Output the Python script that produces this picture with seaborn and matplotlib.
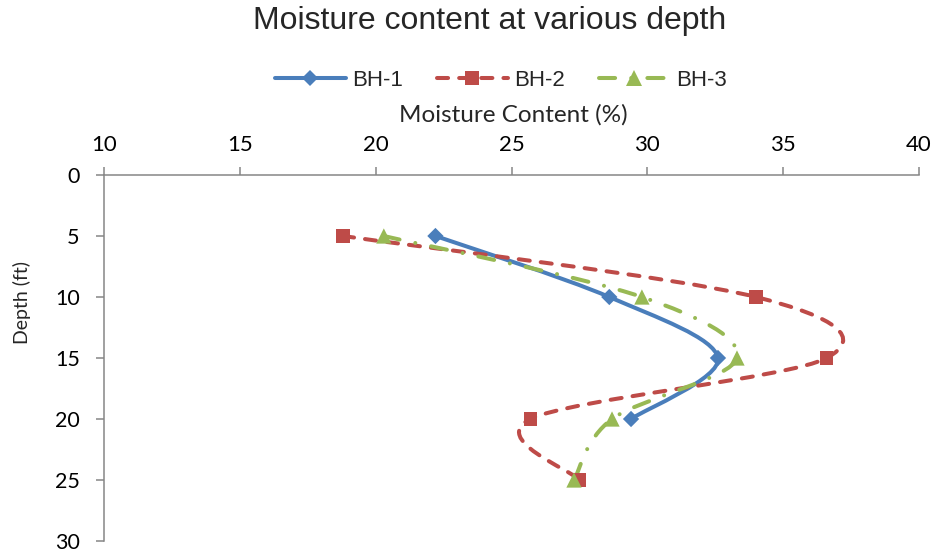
import numpy as np
import pandas as pd
import matplotlib
matplotlib.use("Agg")
import matplotlib.pyplot as plt
import seaborn as sns
from matplotlib.path import Path
from matplotlib.patches import PathPatch
from matplotlib.lines import Line2D

# ---- data ----
series_names = ["BH-1", "BH-2", "BH-3"]
depth_bh1 = [5, 10, 15, 20]
moist_bh1 = [22.2, 28.6, 32.6, 29.4]
depth_bh2 = [5, 10, 15, 20, 25]
moist_bh2 = [18.8, 34.0, 36.6, 25.7, 27.5]
depth_bh3 = [5, 10, 15, 20, 25]
moist_bh3 = [20.3, 29.8, 33.3, 28.7, 27.3]
x_ticks = [10, 15, 20, 25, 30, 35, 40]
y_ticks = [0, 5, 10, 15, 20, 25, 30]

colors = {"BH-1": "#4A7EBB", "BH-2": "#BE4B48", "BH-3": "#98B954"}
markers = {"BH-1": "D", "BH-2": "s", "BH-3": "^"}
msizes = {"BH-1": 8.3, "BH-2": 9.5, "BH-3": 11.0}
dashes = {"BH-1": "-", "BH-2": (0, (2.75, 2.75)), "BH-3": (0, (4.0, 4.0, 0.01, 4.0))}

df = pd.concat([
    pd.DataFrame({"series": "BH-1", "moisture": moist_bh1, "depth": depth_bh1}),
    pd.DataFrame({"series": "BH-2", "moisture": moist_bh2, "depth": depth_bh2}),
    pd.DataFrame({"series": "BH-3", "moisture": moist_bh3, "depth": depth_bh3}),
], ignore_index=True)

sns.set_theme(style="white")
plt.rcParams["font.family"] = ["Lato", "DejaVu Sans"]

W, H = 936, 552
fig = plt.figure(figsize=(W / 100, H / 100), dpi=100)
x0, x1, y0, y1 = 104, 919, 175, 541
ax = fig.add_axes([x0 / W, 1 - y1 / H, (x1 - x0) / W, (y1 - y0) / H])


def smooth_path(xs, ys):
    P = np.column_stack([xs, ys]).astype(float)
    n = len(P)
    verts = [P[0]]
    codes = [Path.MOVETO]
    for i in range(n - 1):
        pm = P[i - 1] if i > 0 else P[i]
        pp = P[i + 2] if i + 2 < n else P[i + 1]
        c1 = P[i] + (P[i + 1] - pm) / 6.0
        c2 = P[i + 1] - (pp - P[i]) / 6.0
        verts += [c1, c2, P[i + 1]]
        codes += [Path.CURVE4] * 3
    return Path(verts, codes)


lw = 2.9
for name in series_names:
    sub = df[df["series"] == name]
    path = smooth_path(sub["moisture"].values, sub["depth"].values)
    patch = PathPatch(path, facecolor="none", edgecolor=colors[name], lw=lw,
                      linestyle=dashes[name], capstyle="round", joinstyle="round",
                      zorder=2)
    ax.add_patch(patch)

for name in series_names:
    sub = df[df["series"] == name]
    sns.scatterplot(data=sub, x="moisture", y="depth", ax=ax, marker=markers[name],
                    color=colors[name], s=msizes[name] ** 2, edgecolor="none",
                    linewidth=0, legend=False, zorder=3)

ax.set_xlim(10, 40)
ax.set_ylim(30, 0)
ax.set_xticks(x_ticks)
ax.set_yticks(y_ticks)
ax.set_xlabel("")
ax.set_ylabel("")
ax.xaxis.tick_top()
for s in ["right", "bottom"]:
    ax.spines[s].set_visible(False)
for s in ["top", "left"]:
    ax.spines[s].set_color("#868686")
    ax.spines[s].set_linewidth(1.1)
ax.tick_params(axis="x", which="major", direction="out", length=5.5, width=1.1,
               color="#868686", pad=9, labelsize=16, labelcolor="black",
               top=True, bottom=False, labeltop=True, labelbottom=False)
ax.tick_params(axis="y", which="major", direction="out", length=5.5, width=1.1,
               color="#868686", pad=12, labelsize=15.5, labelcolor="black", left=True)
ax.grid(False)
ax.set_facecolor("white")

fig.text(490 / W, 1 - 21 / H, "Moisture content at various depth",
         ha="center", va="center", fontsize=23, family=["Liberation Sans"])
fig.text(513 / W, 1 - 115 / H, "Moisture Content (%)", ha="center", va="center",
         fontsize=17.5)
fig.text(22 / W, 1 - 303 / H, "Depth (ft)", ha="center", va="center",
         rotation=90, fontsize=14)

handles = [Line2D([], [], color=colors[n], lw=lw, linestyle=dashes[n],
                  dash_capstyle="round", solid_capstyle="round",
                  marker=markers[n], markersize=msizes[n], markeredgewidth=0)
           for n in series_names]
fig.legend(handles, series_names, loc="center", bbox_to_anchor=(501 / W, 1 - 80 / H),
           ncol=3, frameon=False, handlelength=3.2, columnspacing=1.5, handletextpad=0.3,
           prop={"family": "Liberation Sans", "size": 16})

fig.savefig("out.png", dpi=100, facecolor="white")
